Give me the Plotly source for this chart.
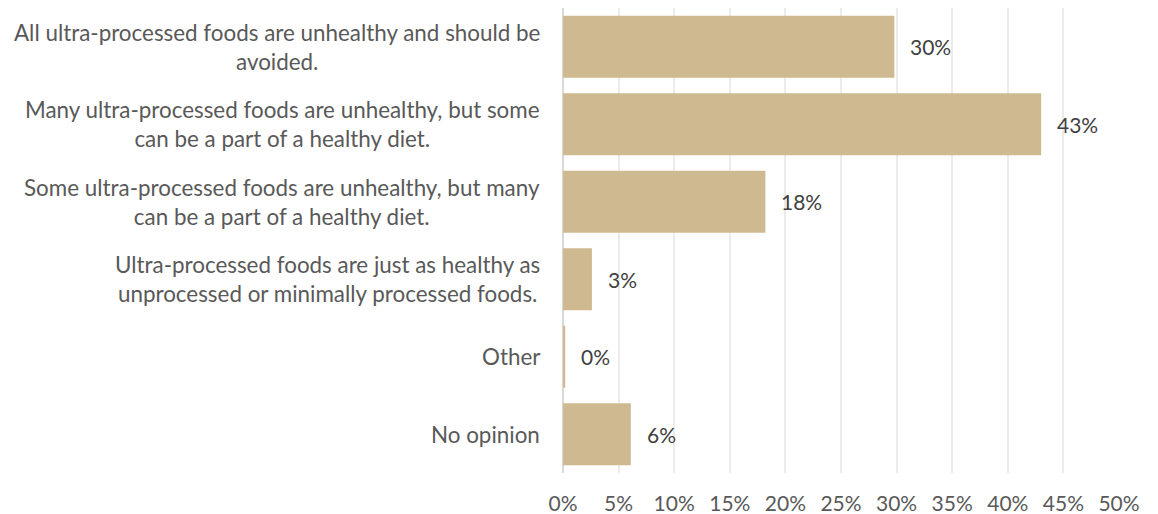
import plotly.graph_objects as go

categories = [
    "All ultra-processed foods are unhealthy and should be<br>avoided.",
    "Many ultra-processed foods are unhealthy, but some<br>can be a part of a healthy diet.",
    "Some ultra-processed foods are unhealthy, but many<br>can be a part of a healthy diet.",
    "Ultra-processed foods are just as healthy as<br>unprocessed or minimally processed foods.",
    "Other",
    "No opinion",
]
values = [29.8, 43.0, 18.2, 2.6, 0.2, 6.1]
tick_vals = list(range(0, 55, 5))
tick_text = [f"{v}%" for v in tick_vals]

FONT = "Lato"
BAR_COLOR = "#CFB991"

fig = go.Figure()
fig.add_trace(go.Bar(
    x=values, y=categories, orientation="h",
    marker=dict(color=BAR_COLOR, line=dict(width=0)),
    hoverinfo="skip",
))

annotations = []
for cat, v in zip(categories, values):
    annotations.append(dict(
        x=v, y=cat, xref="x", yref="y", text=f"{round(v)}%",
        showarrow=False, xanchor="left", xshift=14,
        font=dict(family=FONT, size=21, color="#404040"),
    ))
    annotations.append(dict(
        x=0, y=cat, xref="paper", yref="y", text=cat,
        showarrow=False, xanchor="right", xshift=-21, align="center",
        font=dict(family=FONT, size=22.4, color="#595959"),
    ))

fig.update_layout(
    width=1158, height=514,
    margin=dict(l=563, r=39, t=8, b=41, autoexpand=False),
    paper_bgcolor="white", plot_bgcolor="white",
    bargap=0.2,
    showlegend=False,
    annotations=annotations,
    xaxis=dict(
        range=[0, 50], tickvals=tick_vals, ticktext=tick_text,
        showgrid=True, gridcolor="#EBEBEB", gridwidth=1.5,
        zeroline=True, zerolinecolor="#D9D9D9", zerolinewidth=1.5,
        showline=False, ticks="", ticklabelstandoff=16,
        tickfont=dict(family=FONT, size=21, color="#595959"),
        automargin=False, fixedrange=True,
    ),
    yaxis=dict(
        autorange="reversed", showticklabels=False, showgrid=False,
        zeroline=False, showline=False, ticks="",
        automargin=False, fixedrange=True,
    ),
)

fig.write_html("out.html")
